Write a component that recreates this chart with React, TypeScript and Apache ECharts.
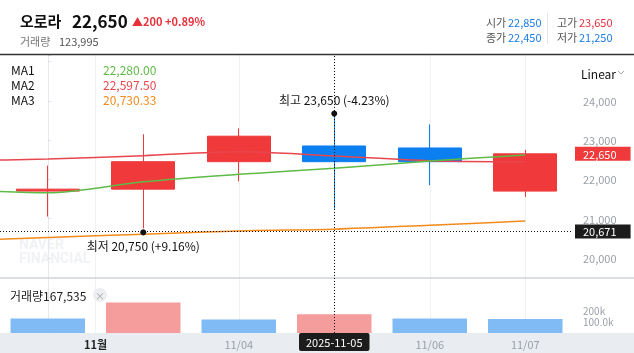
import React, { useEffect, useRef } from 'react';
import * as echarts from 'echarts';

// ---- data ----
const stockName = '오로라';
const dates = ['2025-10-31', '2025-11-03', '2025-11-04', '2025-11-05', '2025-11-06', '2025-11-07'];
const xIndex = [0, 1, 2, 3, 4, 5];
const opens = [21700, 21750, 22450, 22850, 22800, 21700];
const closes = [21750, 22450, 23100, 22450, 22450, 22650];
const lows = [21050, 20750, 21950, 21250, 21850, 21550];
const highs = [22350, 23150, 23300, 23650, 23400, 22750];
const volumes = [130000, 272000, 121000, 167535, 130000, 123995];
const maX = [-1, 0, 1, 2, 3, 4, 5];
const ma1 = [21752, 21657, 21938, 22127, 22280, 22467, 22620];
const ma2 = [22467, 22518, 22602, 22704, 22597.5, 22475, 22449];
const ma3 = [20424, 20517, 20600, 20684, 20730.33, 20830, 20935];
const priceTicks = [20000, 21000, 22000, 23000, 24000];
const volTickValues = [100000, 200000];
const volTickLabels = ['100.0k', '200k'];
const xLabelPos = [0.5, 2, 3, 4, 5];
const xLabels = ['11월', '11/04', '', '11/06', '11/07'];
const gridPos = [0.5, 2, 3, 4, 5];
const crossIdx = 3;
const crossY = 20671;

const RED = '#f0393b';
const BLUE = '#0b7ef0';
const TXT_RED = '#e8313a';
const TXT_BLUE = '#1a7ee8';
const GREEN = '#5dbb46';
const MA_RED = '#e8464f';
const ORANGE = '#f28b1c';
const FONT = "'Noto Sans CJK KR', 'Noto Sans', sans-serif";

const fmt = (v: number) => v.toLocaleString('en-US');
const fmt2 = (v: number) => v.toLocaleString('en-US', { minimumFractionDigits: 2, maximumFractionDigits: 2 });

export default function App() {
  const ref = useRef<HTMLDivElement>(null);
  useEffect(() => {
    if (!ref.current) return;
    const chart = echarts.init(ref.current, undefined, { renderer: 'svg' });
    const n = closes.length;
    const last = closes[n - 1];
    const change = last - closes[n - 2];
    const changePct = (change / closes[n - 2]) * 100;
    const hi = Math.max(...highs);
    const hiIdx = highs.indexOf(hi);
    const lo = Math.min(...lows);
    const loIdx = lows.indexOf(lo);
    const prevClose = closes[crossIdx - 1];
    const cOf = (v: number) => (v > prevClose ? TXT_RED : v < prevClose ? TXT_BLUE : '#333');
    const maIdx = maX.indexOf(crossIdx);

    const text = (x: number, y: number, t: string, s: any = {}, z = 10) => ({
      type: 'text', x, y, z, silent: true,
      style: { text: t, fontFamily: FONT, fontSize: 12, fill: '#111', verticalAlign: 'middle', align: 'left', ...s },
    });

    const candleData = xIndex.map((x, i) => [x, opens[i], closes[i], lows[i], highs[i]]);
    const volData = xIndex.map((x, i) => ({
      value: [x, volumes[i]],
      itemStyle: { color: i > 0 && volumes[i] > volumes[i - 1] ? '#f59c9c' : '#80bbf5' },
    }));
    const dotted = { type: [1, 2], color: '#111', width: 1 };
    const sideLabel = (bg: string) => ({
      show: true, position: 'end', distance: 2, formatter: (p: any) => fmt(p.value),
      backgroundColor: bg, color: '#fff', fontSize: 11, lineHeight: 12, padding: [1, 14, 1, 8], fontFamily: FONT,
    });

    chart.setOption({
      animation: false,
      textStyle: { fontFamily: FONT },
      grid: [
        { left: 0, right: 61, top: 55, bottom: 56 },
        { left: 0, right: 61, top: 288, bottom: 20 },
      ],
      xAxis: [
        {
          type: 'value', gridIndex: 0, min: -0.5, max: 5.5,
          axisLine: { show: false }, axisLabel: { show: false },
          axisTick: { show: false, customValues: gridPos },
          splitLine: { show: true, lineStyle: { color: '#f0f1f3', width: 1 } },
        },
        {
          type: 'value', gridIndex: 1, min: -0.5, max: 5.5,
          axisLine: { show: false },
          axisTick: { show: false, customValues: gridPos },
          splitLine: { show: true, lineStyle: { color: '#f0f1f3', width: 1 } },
          axisLabel: {
            customValues: xLabelPos,
            margin: 5,
            fontSize: 11,
            color: '#9aa0a8',
            formatter: (v: number) => {
              const k = xLabelPos.indexOf(v);
              const s = k >= 0 ? xLabels[k] : '';
              return k === 0 ? `{b|${s}}` : s;
            },
            rich: { b: { fontSize: 11, fontWeight: 'bold', color: '#222', fontFamily: FONT } },
          },
        },
      ],
      yAxis: [
        {
          type: 'value', gridIndex: 0, position: 'right', min: 19000, max: 25170, interval: 1000,
          axisLine: { show: true, lineStyle: { color: '#e6e9ed' } },
          axisTick: { show: true, length: 3, lineStyle: { color: '#d8dce2' } },
          splitLine: { show: false },
          axisLabel: {
            margin: 10, fontSize: 11, lineHeight: 11, color: '#9aa0a8',
            formatter: (v: number) => (priceTicks.includes(v) ? fmt(v) : ''),
          },
        },
        {
          type: 'value', gridIndex: 1, position: 'right', min: 0, max: 400000, interval: 100000,
          axisLine: { show: true, lineStyle: { color: '#e6e9ed' } },
          axisTick: { show: false },
          splitLine: { show: false },
          axisLabel: {
            margin: 10, fontSize: 10, lineHeight: 10, color: '#9aa0a8',
            formatter: (v: number) => {
              const k = volTickValues.indexOf(v);
              return k >= 0 ? volTickLabels[k] : '';
            },
          },
        },
      ],
      series: [
        {
          type: 'line', xAxisIndex: 0, yAxisIndex: 0, data: maX.map((x, i) => [x, ma3[i]]),
          symbol: 'none', smooth: 0.3, lineStyle: { color: ORANGE, width: 1.5 }, z: 3,
        },
        {
          type: 'candlestick', xAxisIndex: 0, yAxisIndex: 0,
          encode: { x: 0, y: [1, 2, 3, 4] },
          data: candleData,
          barWidth: '66%',
          itemStyle: { color: RED, color0: BLUE, borderColor: RED, borderColor0: BLUE, borderWidth: 1 },
          z: 4,
          markPoint: {
            symbol: 'circle', symbolSize: 6, silent: true,
            itemStyle: { color: '#111' },
            data: [
              {
                coord: [xIndex[hiIdx], hi], symbolOffset: [0, -1],
                label: {
                  show: true, position: 'top', distance: 5,
                  formatter: `{a|최고} {b|${fmt(hi)} (${((last / hi - 1) * 100).toFixed(2)}%)}`,
                  rich: { a: { fontSize: 12, color: '#222', fontFamily: FONT }, b: { fontSize: 12, color: '#111', fontFamily: FONT } },
                },
              },
              {
                coord: [xIndex[loIdx], lo], symbolOffset: [0, 4],
                label: {
                  show: true, position: 'bottom', distance: 4,
                  formatter: `{a|최저} {b|${fmt(lo)} (+${((last / lo - 1) * 100).toFixed(2)}%)}`,
                  rich: { a: { fontSize: 12, color: '#222', fontFamily: FONT }, b: { fontSize: 12, color: '#111', fontFamily: FONT } },
                },
              },
            ],
          },
          markLine: {
            symbol: ['none', 'none'], silent: true, z: 10,
            data: [
              { yAxis: last, lineStyle: { color: 'rgba(0,0,0,0)', width: 0 }, label: sideLabel(RED) },
              { yAxis: crossY, lineStyle: dotted, label: sideLabel('#1c1c1c') },
              { xAxis: crossIdx, lineStyle: dotted, label: { show: false } },
            ],
          },
        },
        {
          type: 'line', xAxisIndex: 0, yAxisIndex: 0, data: maX.map((x, i) => [x, ma2[i]]),
          symbol: 'none', smooth: 0.3, lineStyle: { color: MA_RED, width: 1.5 }, z: 5,
        },
        {
          type: 'line', xAxisIndex: 0, yAxisIndex: 0, data: maX.map((x, i) => [x, ma1[i]]),
          symbol: 'none', smooth: 0.3, lineStyle: { color: GREEN, width: 1.5 }, z: 5,
        },
        {
          type: 'bar', xAxisIndex: 1, yAxisIndex: 1, data: volData, barWidth: '78%',
          markLine: {
            symbol: ['none', 'none'], silent: true,
            data: [
              {
                xAxis: crossIdx, lineStyle: dotted,
                label: {
                  show: true, position: 'start', distance: 0, formatter: dates[crossIdx],
                  backgroundColor: '#1c1c1c', color: '#fff', fontSize: 11, padding: [4, 7, 3, 7],
                  borderRadius: 2, fontFamily: FONT,
                },
              },
            ],
          },
        },
      ],
      graphic: [
        { type: 'rect', z: -10, silent: true, shape: { x: 0, y: 333, width: 634, height: 20 }, style: { fill: '#e9ecf1' } },
        { type: 'line', z: 10, silent: true, shape: { x1: 0, y1: 54.5, x2: 634, y2: 54.5 }, style: { stroke: '#333', lineWidth: 1.5 } },
        { type: 'line', z: 10, silent: true, shape: { x1: 0, y1: 278, x2: 634, y2: 278 }, style: { stroke: '#cfd3d9', lineWidth: 1.5 } },
        { type: 'line', z: 10, silent: true, shape: { x1: 547.5, y1: 13, x2: 547.5, y2: 44 }, style: { stroke: '#e6e6e6', lineWidth: 1 } },
        text(19, 244, 'NAVER', { fontSize: 14, fontWeight: 'bold', fill: '#f0f2f5', fontFamily: 'Roboto, sans-serif' }, -5),
        text(19, 258, 'FINANCIAL', { fontSize: 14, fontWeight: 'bold', fill: '#f0f2f5', fontFamily: 'Roboto, sans-serif' }, -5),
        // header
        text(20, 20, stockName, { fontSize: 15, fontWeight: 'bold' }),
        text(72, 20, fmt(last), { fontSize: 17, fontWeight: 'bold' }),
        text(132, 21, `▲${fmt(change)} +${changePct.toFixed(2)}%`, { fontSize: 11, fontWeight: 'bold', fill: TXT_RED }),
        text(20, 41, '거래량', { fontSize: 11, fill: '#777' }),
        text(59, 41, fmt(volumes[n - 1]), { fontSize: 11, fill: '#555' }),
        text(486, 22, '시가', { fontSize: 11, fill: '#555' }),
        text(508, 22, fmt(opens[crossIdx]), { fontSize: 11, fill: cOf(opens[crossIdx]) }),
        text(557, 22, '고가', { fontSize: 11, fill: '#555' }),
        text(579, 22, fmt(highs[crossIdx]), { fontSize: 11, fill: cOf(highs[crossIdx]) }),
        text(486, 37, '종가', { fontSize: 11, fill: '#555' }),
        text(508, 37, fmt(closes[crossIdx]), { fontSize: 11, fill: cOf(closes[crossIdx]) }),
        text(557, 37, '저가', { fontSize: 11, fill: '#555' }),
        text(579, 37, fmt(lows[crossIdx]), { fontSize: 11, fill: cOf(lows[crossIdx]) }),
        // MA legend
        text(11, 69, 'MA1'),
        text(103, 69, fmt2(ma1[maIdx]), { fill: GREEN }),
        text(11, 84, 'MA2'),
        text(103, 84, fmt2(ma2[maIdx]), { fill: MA_RED }),
        text(11, 99, 'MA3'),
        text(103, 99, fmt2(ma3[maIdx]), { fill: ORANGE }),
        // scale selector
        text(581, 73, 'Linear', { fontSize: 12 }),
        { type: 'polyline', z: 10, silent: true, shape: { points: [[618, 71], [621, 74], [624, 71]] }, style: { stroke: '#aaa', lineWidth: 1, fill: 'none' } },
        // volume legend
        text(10, 295, `거래량${fmt(volumes[crossIdx])}`, { fontSize: 12, fill: '#222' }),
        { type: 'circle', z: 10, silent: true, shape: { cx: 100, cy: 295, r: 7 }, style: { fill: '#eceef1' } },
        text(100, 295, '×', { fontSize: 10, fill: '#aaa', align: 'center' }),
      ],
    });
    return () => chart.dispose();
  }, []);
  return <div ref={ref} style={{ position: 'fixed', left: 0, top: 0, width: 634, height: 353 }} />;
}
